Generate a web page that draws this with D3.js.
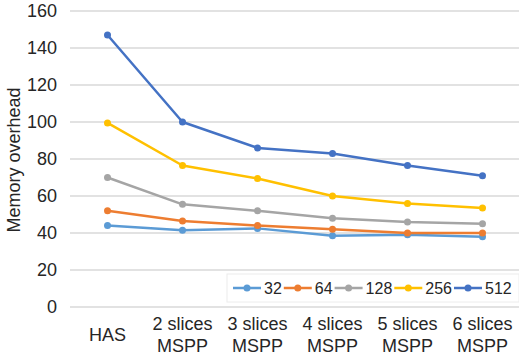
<!DOCTYPE html>
<html>
<head>
<meta charset="utf-8">
<script src="https://cdn.jsdelivr.net/npm/d3@7"></script>
<style>
  body { margin: 0; background: #fff; }
  svg { display: block; font-family: "Liberation Sans", Arial, sans-serif; }
</style>
</head>
<body>
<div id="chart"></div>
<script>
// Data
const categories = ['HAS', '2 slices|MSPP', '3 slices|MSPP', '4 slices|MSPP', '5 slices|MSPP', '6 slices|MSPP'];
const seriesNames = ['32', '64', '128', '256', '512'];
const seriesColors = ['#5b9bd5', '#ed7d31', '#a5a5a5', '#ffc000', '#4472c4'];
const values32 = [44, 41.5, 42.5, 38.5, 39, 38];
const values64 = [52, 46.5, 44, 42, 40, 40];
const values128 = [70, 55.5, 52, 48, 46, 45];
const values256 = [99.5, 76.5, 69.5, 60, 56, 53.5];
const values512 = [147, 100, 86, 83, 76.5, 71];
const yTicks = [0, 20, 40, 60, 80, 100, 120, 140, 160];

const allValues = [values32, values64, values128, values256, values512];

const width = 519;
const height = 358;

const svg = d3.select('#chart')
    .append('svg')
    .attr('width', width)
    .attr('height', height);

// Scales
const x = d3.scaleBand()
    .domain(categories)
    .range([70, 520]);

const y = d3.scaleLinear()
    .domain([0, 160])
    .range([307, 11]);

// Gridlines
svg.append('g')
    .selectAll('line')
    .data(yTicks)
    .join('line')
    .attr('x1', 70)
    .attr('x2', 519)
    .attr('y1', d => y(d))
    .attr('y2', d => y(d))
    .style('stroke', '#d9d9d9')
    .style('stroke-width', 1.3);

// Y axis labels
const yAxis = svg.append('g')
    .attr('transform', 'translate(57,0)')
    .call(d3.axisLeft(y).tickValues(yTicks).tickSize(0).tickPadding(0));
yAxis.select('.domain').remove();
yAxis.selectAll('text')
    .style('font-size', '18px')
    .style('font-family', '"Liberation Sans", Arial, sans-serif')
    .style('fill', '#262626');

// X axis labels (two lines)
const xLabels = svg.append('g')
    .selectAll('text')
    .data(categories)
    .join('text')
    .attr('text-anchor', 'middle')
    .style('font-size', '18px')
    .style('fill', '#262626');

xLabels.each(function (d) {
    const parts = d.split('|');
    const cx = x(d) + x.bandwidth() / 2;
    const t = d3.select(this);
    if (parts.length === 1) {
        t.append('tspan').attr('x', cx).attr('y', 341).text(parts[0]);
    } else {
        t.append('tspan').attr('x', cx).attr('y', 330).text(parts[0]);
        t.append('tspan').attr('x', cx).attr('y', 352).text(parts[1]);
    }
});

// Axis title
svg.append('text')
    .attr('transform', 'translate(20,160) rotate(-90)')
    .attr('text-anchor', 'middle')
    .style('font-size', '18px')
    .style('fill', '#262626')
    .text('Memory overhead');

// Lines
const line = d3.line()
    .x((d, i) => x(categories[i]) + x.bandwidth() / 2)
    .y(d => y(d));

allValues.forEach((vals, s) => {
    const g = svg.append('g');
    g.append('path')
        .datum(vals)
        .attr('d', line)
        .style('fill', 'none')
        .style('stroke', seriesColors[s])
        .style('stroke-width', 2.5)
        .style('stroke-linejoin', 'round');
    g.selectAll('circle')
        .data(vals)
        .join('circle')
        .attr('cx', (d, i) => x(categories[i]) + x.bandwidth() / 2)
        .attr('cy', d => y(d))
        .attr('r', 3.5)
        .style('fill', seriesColors[s]);
});

// Legend box
svg.append('rect')
    .attr('x', 227)
    .attr('y', 274)
    .attr('width', 292)
    .attr('height', 28)
    .style('fill', '#ffffff')
    .style('stroke', '#ececec')
    .style('stroke-width', 1);

const legend = svg.append('g');
let lx = 233;
const ly = 288;
seriesNames.forEach((name, s) => {
    legend.append('line')
        .attr('x1', lx)
        .attr('x2', lx + 28)
        .attr('y1', ly)
        .attr('y2', ly)
        .style('stroke', seriesColors[s])
        .style('stroke-width', 2.5);
    legend.append('circle')
        .attr('cx', lx + 14)
        .attr('cy', ly)
        .attr('r', 3.5)
        .style('fill', seriesColors[s]);
    const txt = legend.append('text')
        .attr('x', lx + 31)
        .attr('y', ly + 5.5)
        .style('font-size', '16px')
        .style('fill', '#262626')
        .text(name);
    lx += 31 + txt.node().getComputedTextLength() + 2;
});
</script>
</body>
</html>
